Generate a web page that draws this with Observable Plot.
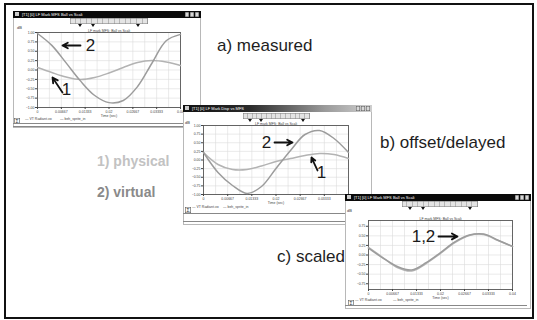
<!DOCTYPE html>
<html><head><meta charset="utf-8">
<script src="https://cdn.jsdelivr.net/npm/d3@7"></script>
<script src="https://cdn.jsdelivr.net/npm/@observablehq/plot@0.6"></script>
<style>
body{margin:0;background:#fff;}
#page{position:relative;width:537px;height:320px;overflow:hidden;background:#fff;font-family:"Liberation Sans",Arial,sans-serif;}
.frame{position:absolute;left:4px;top:3px;width:530px;height:316px;box-sizing:border-box;border:2px solid #111;pointer-events:none;}
.win{position:absolute;background:#fff;box-shadow:inset 0 0 0 1px #b8b8b8;}
.tbar{position:absolute;left:0;top:0;right:0;height:7px;color:#fff;font-size:4px;line-height:7px;padding-left:9px;white-space:nowrap;overflow:hidden;}
.ico{position:absolute;left:2px;top:1px;width:4px;height:4px;background:#ccc;}
.btns{position:absolute;top:1px;right:2px;height:5px;display:flex;gap:1px;}
.btns span{display:block;width:4px;height:5px;background:#d8d8d8;box-shadow:inset 0 0 0 0.5px #555;}
.tool{position:absolute;height:6px;display:flex;background:#e4e4e4;box-shadow:inset 0 0 0 0.5px #777;}
.tool span{flex:1;box-shadow:inset -0.5px 0 0 #888;}
.mark{position:absolute;width:0;height:0;border-left:2px solid transparent;border-right:2px solid transparent;border-top:3px solid #111;}
.tiny{position:absolute;font-size:4px;line-height:4px;color:#333;white-space:nowrap;}
.leg{position:absolute;font-size:3.5px;line-height:4px;color:#444;white-space:nowrap;}
.sig{position:absolute;width:6px;height:6px;box-shadow:inset 0 0 0 0.6px #555;font-size:5px;line-height:6px;text-align:center;color:#333;}
.hl{position:absolute;height:0;border-top:1px solid #888;}
.lab{position:absolute;white-space:nowrap;line-height:1;}
</style>
</head><body>
<div id="page"></div>
<script>
// ---------- data ----------
const time = [0, 0.004, 0.008, 0.012, 0.016, 0.02, 0.024, 0.028, 0.032, 0.036, 0.04];
const xTicks = [0, 0.00667, 0.01333, 0.02, 0.02667, 0.03333, 0.04];
const xTickLabels = ["0", "0.00667", "0.01333", "0.02", "0.02667", "0.03333", "0.04"];
const xGrid = [0.00333, 0.00667, 0.01, 0.01333, 0.01667, 0.02, 0.02333, 0.02667, 0.03, 0.03333, 0.03667];

const measuredPhysical = [0.067, -0.067, -0.187, -0.253, -0.2, -0.08, 0.067, 0.2, 0.253, 0.213, 0.12];
const measuredVirtual  = [0.973, 0.656, 0.19, -0.29, -0.68, -0.87, -0.813, -0.44, 0.18, 0.78, 0.95];
const offsetPhysical   = [0.217, -0.13, -0.275, -0.275, -0.174, -0.043, 0.043, 0.13, 0.188, 0.159, 0.043];
const offsetVirtual    = [0.217, -0.362, -0.739, -0.971, -0.768, -0.246, 0.275, 0.739, 0.855, 0.623, 0.217];
const scaledPhysical   = [0.196, -0.065, -0.326, -0.417, -0.222, 0.039, 0.326, 0.509, 0.535, 0.378, 0.222];
const scaledVirtual    = [0.18, -0.08, -0.30, -0.39, -0.20, 0.06, 0.34, 0.52, 0.545, 0.385, 0.225];

const yTicksAB = [-1, -0.75, -0.5, -0.25, 0, 0.25, 0.5, 0.75, 1];
const yTicksC = [-0.75, -0.5, -0.25, 0, 0.25, 0.5, 0.75];

const arrowsA = [{x1: 0.01203, y1: 0.653, x2: 0.00699, y2: 0.653}, {x1: 0.00699, y1: -0.6, x2: 0.0042, y2: -0.2}];
const labelsA = [{text: "2", x: 0.01483, y: 0.653}, {text: "1", x: 0.00811, y: -0.52}];
const arrowsB = [{x1: 0.01959, y1: 0.507, x2: 0.02455, y2: 0.507}, {x1: 0.03145, y1: -0.304, x2: 0.02979, y2: 0.072}];
const labelsB = [{text: "2", x: 0.01738, y: 0.507}, {text: "1", x: 0.03255, y: -0.362}];
const arrowsC = [{x1: 0.01944, y1: 0.483, x2: 0.02472, y2: 0.483}];
const labelsC = [{text: "1,2", x: 0.01528, y: 0.483}];

const legendNames = ["VT Radiant.vo", "beh_sprite_in"];
const physColor = "#b3b3b3", virtColor = "#9c9c9c";

// ---------- drawing ----------
const page = document.getElementById("page");
function el(cls, parent, style, text) {
  const d = document.createElement("div");
  d.className = cls;
  Object.assign(d.style, style || {});
  if (text != null) d.textContent = text;
  parent.appendChild(d);
  return d;
}
const series = (vals) => time.map((t, i) => ({t, v: vals[i]}));
const fmt = d3.format(".2f");

function makeWindow(c) {
  const w = el("win", page, {left: c.left + "px", top: c.top + "px", width: c.width + "px", height: c.height + "px"});
  const tb = el("tbar", w, {background: c.barBg}, c.title);
  el("ico", tb);
  const b = el("btns", w); for (let i = 0; i < 3; i++) b.appendChild(document.createElement("span"));
  const tool = el("tool", w, {left: c.toolX + "px", top: c.toolY + "px", width: c.toolW + "px"});
  for (let i = 0; i < 14; i++) tool.appendChild(document.createElement("span"));
  c.markers.forEach(m => el("mark", w, {left: (m - 2) + "px", top: (c.toolY + 6) + "px"}));
  el("tiny", w, {left: c.dbX + "px", top: c.dbY + "px"}, "dB");

  const svg = Plot.plot({
    width: c.width, height: c.plotH,
    marginLeft: c.ml, marginRight: c.mr, marginTop: c.mt, marginBottom: c.mb,
    style: {background: "transparent", fontFamily: "Liberation Sans, Arial, sans-serif", fontSize: "3.5px", color: "#444", overflow: "visible"},
    x: {domain: [0, 0.04]},
    y: {domain: c.yDomain},
    marks: [
      Plot.gridX(xGrid, {stroke: "#dcdcdc", strokeOpacity: 1, strokeWidth: 0.6}),
      Plot.gridY(c.yTicks, {stroke: "#dcdcdc", strokeOpacity: 1, strokeWidth: 0.6}),
      Plot.frame({stroke: "#555", strokeWidth: 0.9}),
      Plot.axisX(xTicks, {tickSize: 2, tickPadding: 1, label: null, tickFormat: d => xTickLabels[xTicks.indexOf(d)]}),
      Plot.axisY(c.yTicks, {tickSize: 2, tickPadding: 1, label: null, tickFormat: fmt}),
      Plot.text([c.plotTitle], {frameAnchor: "top", dy: -3, text: d => d, fontSize: 3.5}),
      Plot.text(["Time (sec)"], {frameAnchor: "bottom", dy: 9, text: d => d, fontSize: 3.5}),
      Plot.line(series(c.phys), {x: "t", y: "v", stroke: physColor, strokeWidth: 1.5, curve: "catmull-rom"}),
      Plot.line(series(c.virt), {x: "t", y: "v", stroke: virtColor, strokeWidth: 1.5, curve: "catmull-rom"}),
      Plot.arrow(c.arrows, {x1: "x1", y1: "y1", x2: "x2", y2: "y2", stroke: "#111", strokeWidth: 1.8, headLength: 7, headAngle: 55}),
      Plot.text(c.labels, {x: "x", y: "y", text: "text", fontSize: 17, fill: "#1a1a1a", fontFamily: "Liberation Sans, Arial, sans-serif"})
    ]
  });
  svg.style.position = "absolute";
  svg.style.left = "0px";
  svg.style.top = c.plotTop + "px";
  w.appendChild(svg);

  el("sig", w, {left: c.sigX + "px", top: c.sigY + "px"}, "Σ");
  c.legX.forEach((x, i) => el("leg", w, {left: x + "px", top: c.legY + "px"}, "— " + legendNames[i]));
  c.lines.forEach(y => el("hl", w, {left: "0px", width: (c.width - 4) + "px", top: y + "px"}));
}

makeWindow({
  left: 13, top: 11, width: 188, height: 117,
  barBg: "#0a0a0a", title: "[T1] [0] LF Mark MFS Ball vs Scali",
  toolX: 57, toolY: 7, toolW: 78, markers: [67, 80, 125],
  dbX: 4, dbY: 15,
  plotTop: 14, plotH: 95, ml: 24, mr: 21, mt: 7, mb: 13,
  yDomain: [-1, 1], yTicks: yTicksAB, plotTitle: "LF mark MFS: Ball vs Scali",
  phys: measuredPhysical, virt: measuredVirtual, arrows: arrowsA, labels: labelsA,
  sigX: 1, sigY: 107, legX: [12, 47], legY: 106, lines: [112, 115]
});

el("lab", page, {left: "217px", top: "37px", fontSize: "17px", color: "#1e1e1e"}, "a) measured");

makeWindow({
  left: 183, top: 105, width: 189, height: 120,
  barBg: "linear-gradient(to right,#111 0%,#2a2a2a 35%,#9a9a9a 75%,#cfcfcf 100%)", title: "[T1] [0] LF Mark Disp vs MFS",
  toolX: 60, toolY: 8, toolW: 67, markers: [67, 78, 120],
  dbX: 2, dbY: 16,
  plotTop: 12, plotH: 90, ml: 20, mr: 24, mt: 8, mb: 13,
  yDomain: [-1, 1], yTicks: yTicksAB, plotTitle: "LF mark MFS: Ball vs Scali",
  phys: offsetPhysical, virt: offsetVirtual, arrows: arrowsB, labels: labelsB,
  sigX: 2, sigY: 102, legX: [9, 40], legY: 100, lines: [108, 116]
});

el("lab", page, {left: "380px", top: "134px", fontSize: "17px", color: "#1e1e1e"}, "b) offset/delayed");
el("lab", page, {left: "97px", top: "154px", fontSize: "14px", fontWeight: "bold", color: "#c2c2c2"}, "1) physical");
el("lab", page, {left: "97px", top: "185px", fontSize: "14px", fontWeight: "bold", color: "#8a8a8a"}, "2) virtual");
el("lab", page, {left: "277px", top: "248px", fontSize: "17px", color: "#1e1e1e"}, "c) scaled");

makeWindow({
  left: 345, top: 194, width: 186, height: 115,
  barBg: "#0a0a0a", title: "[T1] [0] LF Mark MFS Ball vs Scali",
  toolX: 57, toolY: 7, toolW: 76, markers: [65, 78, 125],
  dbX: 2, dbY: 15,
  plotTop: 14, plotH: 94, ml: 23, mr: 19, mt: 12, mb: 13,
  yDomain: [-0.9, 0.9], yTicks: yTicksC, plotTitle: "LF mark MFS: Ball vs Scali",
  phys: scaledPhysical, virt: scaledVirtual, arrows: arrowsC, labels: labelsC,
  sigX: 3, sigY: 106, legX: [10, 48], legY: 104, lines: [111]
});

el("frame", page);
</script>
</body></html>
